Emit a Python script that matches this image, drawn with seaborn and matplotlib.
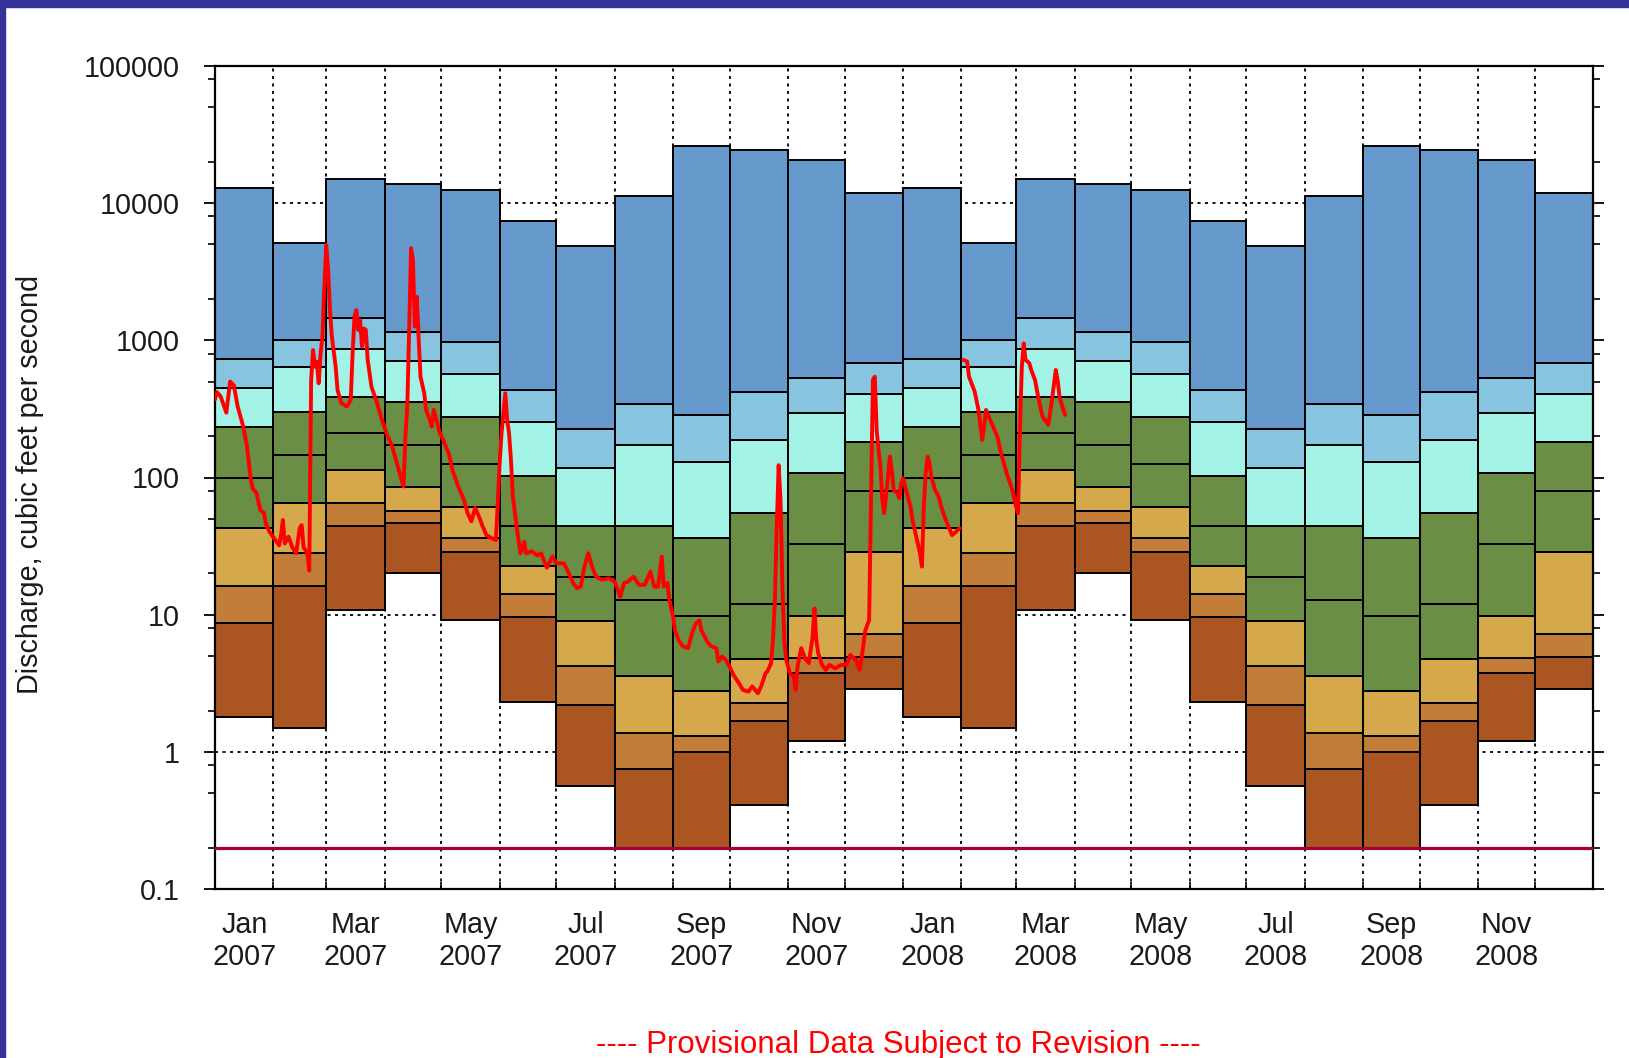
import numpy as np
import pandas as pd
import matplotlib
matplotlib.use("Agg")
import matplotlib.pyplot as plt
import matplotlib.dates as mdates
from matplotlib.ticker import FixedLocator, FixedFormatter, NullFormatter
from matplotlib.patches import Rectangle
import seaborn as sns

# ---------------------------------------------------------------------------
# Monthly daily-discharge statistics (cubic feet per second), Jan..Dec
# ---------------------------------------------------------------------------
month_names = ["Jan", "Feb", "Mar", "Apr", "May", "Jun",
               "Jul", "Aug", "Sep", "Oct", "Nov", "Dec"]
stat_min = [1.8, 1.5, 10.9, 20.2, 9.2, 2.29, 0.56, 0.2, 0.2, 0.41, 1.19, 2.86]
stat_p05 = [8.7, 16.2, 44.0, 46.8, 28.7, 9.55, 2.19, 0.75, 1.0, 1.69, 3.73, 4.94]
stat_p10 = [16.2, 28.0, 65.0, 57.0, 36.3, 14.1, 4.22, 1.38, 1.31, 2.28, 4.83, 7.18]
stat_p25 = [42.6, 65.4, 113, 85.4, 61.0, 22.7, 8.93, 3.56, 2.77, 4.72, 9.8, 28.7]
stat_p50 = [100, 147, 212, 172, 126, 44.2, 18.9, 12.8, 9.83, 11.9, 33.0, 80.0]
stat_p75 = [234, 301, 387, 356, 276, 103, 44.0, 44.0, 36.5, 55.3, 107, 182]
stat_p90 = [446, 638, 859, 705, 564, 255, 118, 174, 129, 187, 293, 405]
stat_p95 = [728, 1007, 1445, 1148, 975, 434, 225, 344, 285, 419, 527, 686]
stat_max = [12800, 5140, 14960, 13700, 12370, 7400, 4860, 11250, 26200, 24600, 20800, 11900]

band_colors = ["#AA5522", "#C27E38", "#D5A84C", "#6B8E45",
               "#6B8E45", "#A3F2E6", "#86C4E0", "#6699CC"]

# ---------------------------------------------------------------------------
# Daily discharge record (cfs); NaN marks a missing day
# ---------------------------------------------------------------------------
flow_dates = [
    "2007-01-01", "2007-01-02", "2007-01-04", "2007-01-07", "2007-01-09", "2007-01-11",
    "2007-01-13", "2007-01-16", "2007-01-18", "2007-01-20", "2007-01-21", "2007-01-23",
    "2007-01-25", "2007-01-27", "2007-01-28", "2007-01-30", "2007-02-02", "2007-02-04",
    "2007-02-05", "2007-02-06", "2007-02-07", "2007-02-09", "2007-02-11", "2007-02-13",
    "2007-02-15", "2007-02-16", "2007-02-17", "2007-02-19", "2007-02-20", "2007-02-21",
    "2007-02-22", "2007-02-23", "2007-02-24", "2007-02-25", "2007-02-26", "2007-02-27",
    "2007-02-28", "2007-03-01", "2007-03-02", "2007-03-03", "2007-03-04", "2007-03-06",
    "2007-03-07", "2007-03-09", "2007-03-12", "2007-03-14", "2007-03-15", "2007-03-16",
    "2007-03-17", "2007-03-18", "2007-03-19", "2007-03-20", "2007-03-21", "2007-03-22",
    "2007-03-23", "2007-03-25", "2007-03-28", "2007-03-30", "2007-04-02", "2007-04-05",
    "2007-04-07", "2007-04-09", "2007-04-11", "2007-04-12", "2007-04-13", "2007-04-14",
    "2007-04-15", "2007-04-16", "2007-04-17", "2007-04-18", "2007-04-19", "2007-04-20",
    "2007-04-22", "2007-04-23", "2007-04-25", "2007-04-26", "2007-04-27", "2007-04-29",
    "2007-04-30", "2007-05-02", "2007-05-05", "2007-05-07", "2007-05-10", "2007-05-13",
    "2007-05-15", "2007-05-17", "2007-05-19", "2007-05-21", "2007-05-23", "2007-05-25",
    "2007-05-28", "2007-05-30", "2007-05-31", "2007-06-01", "2007-06-02", "2007-06-04",
    "2007-06-05", "2007-06-06", "2007-06-07", "2007-06-08", "2007-06-10", "2007-06-12",
    "2007-06-14", "2007-06-15", "2007-06-18", "2007-06-21", "2007-06-23", "2007-06-26",
    "2007-06-29", "2007-07-01", "2007-07-05", "2007-07-07", "2007-07-10", "2007-07-12",
    "2007-07-14", "2007-07-16", "2007-07-18", "2007-07-20", "2007-07-22", "2007-07-25",
    "2007-07-29", "2007-08-01", "2007-08-04", "2007-08-06", "2007-08-08", "2007-08-11",
    "2007-08-14", "2007-08-17", "2007-08-20", "2007-08-22", "2007-08-24", "2007-08-26",
    "2007-08-27", "2007-08-29", "2007-08-30", "2007-09-01", "2007-09-02", "2007-09-04",
    "2007-09-06", "2007-09-09", "2007-09-11", "2007-09-13", "2007-09-15", "2007-09-16",
    "2007-09-19", "2007-09-21", "2007-09-24", "2007-09-25", "2007-09-27", "2007-09-29",
    "2007-10-01", "2007-10-03", "2007-10-06", "2007-10-08", "2007-10-11", "2007-10-13",
    "2007-10-16", "2007-10-18", "2007-10-20", "2007-10-21", "2007-10-23", "2007-10-24",
    "2007-10-25", "2007-10-26", "2007-10-27", "2007-10-28", "2007-10-29", "2007-10-30",
    "2007-10-31", "2007-11-02", "2007-11-04", "2007-11-05", "2007-11-06", "2007-11-08",
    "2007-11-10", "2007-11-12", "2007-11-14", "2007-11-15", "2007-11-16", "2007-11-17",
    "2007-11-19", "2007-11-21", "2007-11-23", "2007-11-26", "2007-11-29", "2007-12-02",
    "2007-12-04", "2007-12-07", "2007-12-09", "2007-12-10", "2007-12-12", "2007-12-13",
    "2007-12-14", "2007-12-15", "2007-12-16", "2007-12-17", "2007-12-18", "2007-12-19",
    "2007-12-20", "2007-12-21", "2007-12-22", "2007-12-24", "2007-12-25", "2007-12-26",
    "2007-12-27", "2007-12-29", "2007-12-30", "2007-12-31", "2008-01-01", "2008-01-03",
    "2008-01-05", "2008-01-06", "2008-01-08", "2008-01-10", "2008-01-11", "2008-01-12",
    "2008-01-13", "2008-01-14", "2008-01-15", "2008-01-16", "2008-01-18", "2008-01-20",
    "2008-01-21", "2008-01-23", "2008-01-25", "2008-01-27", "2008-01-28", "2008-01-31",
    "2008-02-01", "2008-02-02", "2008-02-04", "2008-02-05", "2008-02-08", "2008-02-10",
    "2008-02-12", "2008-02-13", "2008-02-14", "2008-02-17", "2008-02-20", "2008-02-22",
    "2008-02-25", "2008-02-28", "2008-03-01", "2008-03-02", "2008-03-03", "2008-03-04",
    "2008-03-05", "2008-03-06", "2008-03-08", "2008-03-09", "2008-03-11", "2008-03-13",
    "2008-03-15", "2008-03-18", "2008-03-20", "2008-03-22", "2008-03-23", "2008-03-24",
    "2008-03-26", "2008-03-27",
]
flow_values = [
    370, 420, 390, 297, 500, 470,
    330, 235, 168, 96, 83, 77,
    58, 55, 46, 40, 35, 32,
    38, 49, 33, 37, 31, 28,
    43, 45, 31, 28, 21, 514,
    850, 643, 700, 486, 800, 1060,
    2460, 4950, 3260, 1660, 1060, 643,
    434, 348, 329, 367, 804, 1490,
    1660, 1190, 1400, 900, 1220, 1190,
    719, 459, 348, 278, 210, 168,
    134, 107, 86, 199, 329, 1190,
    4690, 3850, 1260, 2080, 1060, 543,
    411, 311, 262, 235, 311, 248,
    216, 188, 150, 113, 86, 69,
    55, 48, 60, 52, 44, 38,
    36, 35, 65, 127, 210, 411,
    262, 210, 134, 73, 44, 28,
    34, 28, 29, 27, 28, 22,
    26.5, 23.7, 23.7, 21, 17, 15.6,
    16, 22.4, 28, 22.4, 19, 18,
    18.4, 17.4, 13.5, 17, 17.4, 18.9,
    16.5, 16.5, 20.6, 16, 16, 26.5,
    16, 17, 12.8, 9.7, 7.7, 6.5,
    5.9, 5.7, 7.3, 8.6, 9.1, 7.7,
    6.4, 5.9, 5.7, 4.55, 4.95, 4.68,
    4.18, 3.64, 3.16, 2.83, 2.75, 3.0,
    2.67, 3.07, 3.74, 3.85, 4.43, 6.5,
    12.8, 43.7, 123, 68.5, 16, 6.5,
    4.68, 3.74, 3.54, 2.83, 4.18, 5.7,
    4.8, 4.43, 6.9, 11.1, 6.5, 5.24,
    4.3, 3.96, 4.3, 4.06, 4.3, 4.3,
    5.08, 4.68, 3.96, 4.8, 7.7, 8.4,
    9.1, 70, 514, 543, 222, 159,
    120, 68.5, 55, 101, 142, 114,
    81, 77, 70.5, 91, 98.6, 77,
    61, 49, 37, 28, 22.4, 61,
    107, 142, 127, 101, 81, 72,
    63, 52, 44, 38, 39, 42.7,
    np.nan, 720, 700, 543, 423, 311,
    188, 235, 311, 248, 199, 150,
    107, 81, 61, 55, 222, 643,
    950, 720, 681, 608, 514, 367,
    278, 242, 367, 608, 514, 388,
    311, 286,
]

y_major = [0.1, 1, 10, 100, 1000, 10000, 100000]
y_major_labels = ["0.1", "1", "10", "100", "1000", "10000", "100000"]
reference_flow = 0.2

# ---------------------------------------------------------------------------
sns.set_theme(style="white")
plt.rcParams["font.family"] = ["Liberation Sans", "DejaVu Sans"]
plt.rcParams["lines.scale_dashes"] = False

W, H = 1629, 1058
FS = 20.7
fig = plt.figure(figsize=(W / 100, H / 100), dpi=100)
fig.patch.set_facecolor("white")
ax = fig.add_axes([215 / W, 1 - 889 / H, 1378 / W, 823 / H])
ax.set_facecolor("white")

# month cells over two years
starts = pd.date_range("2007-01-01", periods=24, freq="MS")
ends = starts + pd.offsets.MonthBegin(1)
x0 = mdates.date2num(starts)
widths = mdates.date2num(ends) - x0

levels = np.array([stat_min, stat_p05, stat_p10, stat_p25, stat_p50,
                   stat_p75, stat_p90, stat_p95, stat_max], dtype=float)
levels = np.tile(levels, 2)

for k, color in enumerate(band_colors):
    ax.bar(x0, levels[k + 1] - levels[k], bottom=levels[k], width=widths,
           align="edge", color=color, edgecolor="black", linewidth=1.4,
           zorder=2)

ax.axhline(reference_flow, color="#A2003C", linewidth=2.3, zorder=3)

# daily discharge
flow = pd.DataFrame({"date": pd.to_datetime(flow_dates), "flow": flow_values})
flow["segment"] = flow["flow"].isna().cumsum()
flow = flow.dropna()
sns.lineplot(data=flow, x="date", y="flow", units="segment", estimator=None,
             color="#FF0000", linewidth=2.8, ax=ax, zorder=4, legend=False)

# axes scales and ticks
ax.set_yscale("log")
ax.set_ylim(0.1, 100000)
ax.set_xlim(mdates.date2num(pd.Timestamp("2007-01-01")),
            mdates.date2num(pd.Timestamp("2009-01-01")))

ax.yaxis.set_major_locator(FixedLocator(y_major))
ax.yaxis.set_major_formatter(FixedFormatter(y_major_labels))
y_minor = [m * d for d in [0.1, 1, 10, 100, 1000, 10000] for m in (2, 5, 8)]
ax.yaxis.set_minor_locator(FixedLocator(y_minor))
ax.yaxis.set_minor_formatter(NullFormatter())

month_edges = list(x0) + [mdates.date2num(pd.Timestamp("2009-01-01"))]
ax.xaxis.set_major_locator(FixedLocator(month_edges))
ax.xaxis.set_major_formatter(NullFormatter())
label_pos = [x0[i] + widths[i] / 2 for i in range(0, 24, 2)]
label_txt = [f"{month_names[i % 12]}\n{starts[i].year}" for i in range(0, 24, 2)]
ax.xaxis.set_minor_locator(FixedLocator(label_pos))
ax.xaxis.set_minor_formatter(FixedFormatter(label_txt))

tick_color = "#1a1a1a"
ax.tick_params(axis="x", which="major", direction="in", length=5, width=1.2,
               bottom=True, top=False, color="black")
ax.tick_params(axis="x", which="minor", length=0, pad=16, labelsize=FS,
               labelcolor=tick_color)
for lbl in ax.xaxis.get_minorticklabels():
    lbl.set_linespacing(1.15)
ax.tick_params(axis="y", which="both", direction="out", left=True, right=True,
               labelright=False, color="black")
ax.tick_params(axis="y", which="major", length=8.2, width=1.3, pad=17,
               labelsize=FS, labelcolor=tick_color)
ax.tick_params(axis="y", which="minor", length=5, width=1.2)
ax.set_xlabel("")
ax.set_ylabel("Discharge, cubic feet per second", fontsize=FS, color=tick_color)
ax.yaxis.set_label_coords(-0.124, 0.491)

ax.set_axisbelow(True)
ax.grid(True, which="major", color="black", linestyle=(0, (2.2, 3.2)),
        linewidth=1.3)
for side in ["left", "right", "top", "bottom"]:
    ax.spines[side].set_visible(True)
    ax.spines[side].set_color("black")
    ax.spines[side].set_linewidth(1.6)

fig.text(898 / W, 1 - 1045 / H, "---- Provisional Data Subject to Revision ----",
         color="#FF0000", fontsize=22.5, ha="center", va="center")

# page frame
frame = "#333399"
fig.patches.append(Rectangle((0, 1 - 7 / H), 1, 7 / H, transform=fig.transFigure,
                             color=frame, zorder=10))
fig.patches.append(Rectangle((0, 0), 5 / W, 1, transform=fig.transFigure,
                             color=frame, zorder=10))

fig.savefig("out.png", dpi=100)
